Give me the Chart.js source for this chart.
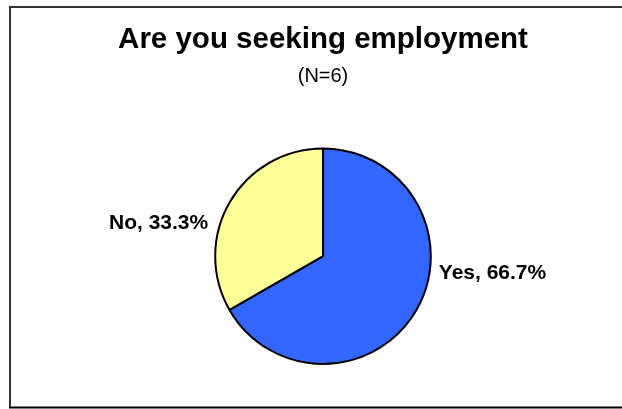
<!DOCTYPE html>
<html>
<head>
<meta charset="utf-8">
<script src="https://cdn.jsdelivr.net/npm/chart.js@4"></script>
<style>
  html, body { margin: 0; padding: 0; background: #ffffff; }
  canvas { display: block; }
</style>
</head>
<body>
<canvas id="c" width="622" height="409"></canvas>
<script>
const categories = ["Yes", "No"];
const percentages = [66.7, 33.3];
const sliceColors = ["#3366FF", "#FFFF99"];
const titleText = "Are you seeking employment";
const subtitleText = "(N=6)";

const FONT = "'Liberation Sans', Arial, Helvetica, sans-serif";

const frame = {
  id: 'frame',
  beforeDraw(chart) {
    const ctx = chart.ctx;
    ctx.save();
    ctx.fillStyle = '#ffffff';
    ctx.fillRect(0, 0, chart.width, chart.height);
    ctx.strokeStyle = '#333333';
    ctx.lineWidth = 2;
    ctx.beginPath();
    ctx.moveTo(chart.width + 5, 7);
    ctx.lineTo(10, 7);
    ctx.lineTo(10, 407);
    ctx.stroke();
    ctx.strokeStyle = '#000000';
    ctx.beginPath();
    ctx.moveTo(9, 407.5);
    ctx.lineTo(chart.width + 5, 407.5);
    ctx.stroke();
    ctx.restore();
  }
};

const sliceLabels = {
  id: 'sliceLabels',
  afterDatasetsDraw(chart) {
    const ctx = chart.ctx;
    const meta = chart.getDatasetMeta(0);
    const dys = [17, -32.5];
    ctx.save();
    ctx.font = "bold 21px " + FONT;
    ctx.fillStyle = '#000000';
    ctx.textBaseline = 'middle';
    meta.data.forEach((arc, i) => {
      const p = arc.getProps(['x', 'y', 'startAngle', 'endAngle', 'outerRadius'], true);
      const mid = (p.startAngle + p.endAngle) / 2;
      const right = Math.cos(mid) >= 0;
      const text = categories[i] + ", " + percentages[i].toFixed(1) + "%";
      ctx.textAlign = right ? 'left' : 'right';
      const x = right ? p.x + p.outerRadius + 8 : p.x - p.outerRadius - 7;
      ctx.fillText(text, x, p.y + dys[i]);
    });
    ctx.restore();
  }
};

new Chart(document.getElementById('c'), {
  type: 'pie',
  data: {
    labels: categories,
    datasets: [{
      data: percentages,
      backgroundColor: sliceColors,
      borderColor: '#000000',
      borderWidth: 2,
      hoverOffset: 0
    }]
  },
  options: {
    responsive: false,
    animation: false,
    events: [],
    layout: { padding: { left: 24, right: 0, top: 0, bottom: 44 } },
    plugins: {
      legend: { display: false },
      tooltip: { enabled: false },
      title: {
        display: true,
        text: titleText,
        color: '#000000',
        font: { family: FONT, size: 29.5, weight: 'bold' },
        padding: { top: 22, bottom: 0 }
      },
      subtitle: {
        display: true,
        text: subtitleText,
        color: '#000000',
        font: { family: FONT, size: 20, weight: 'normal' },
        padding: { top: 7, bottom: 59 }
      }
    }
  },
  plugins: [frame, sliceLabels]
});
</script>
</body>
</html>
